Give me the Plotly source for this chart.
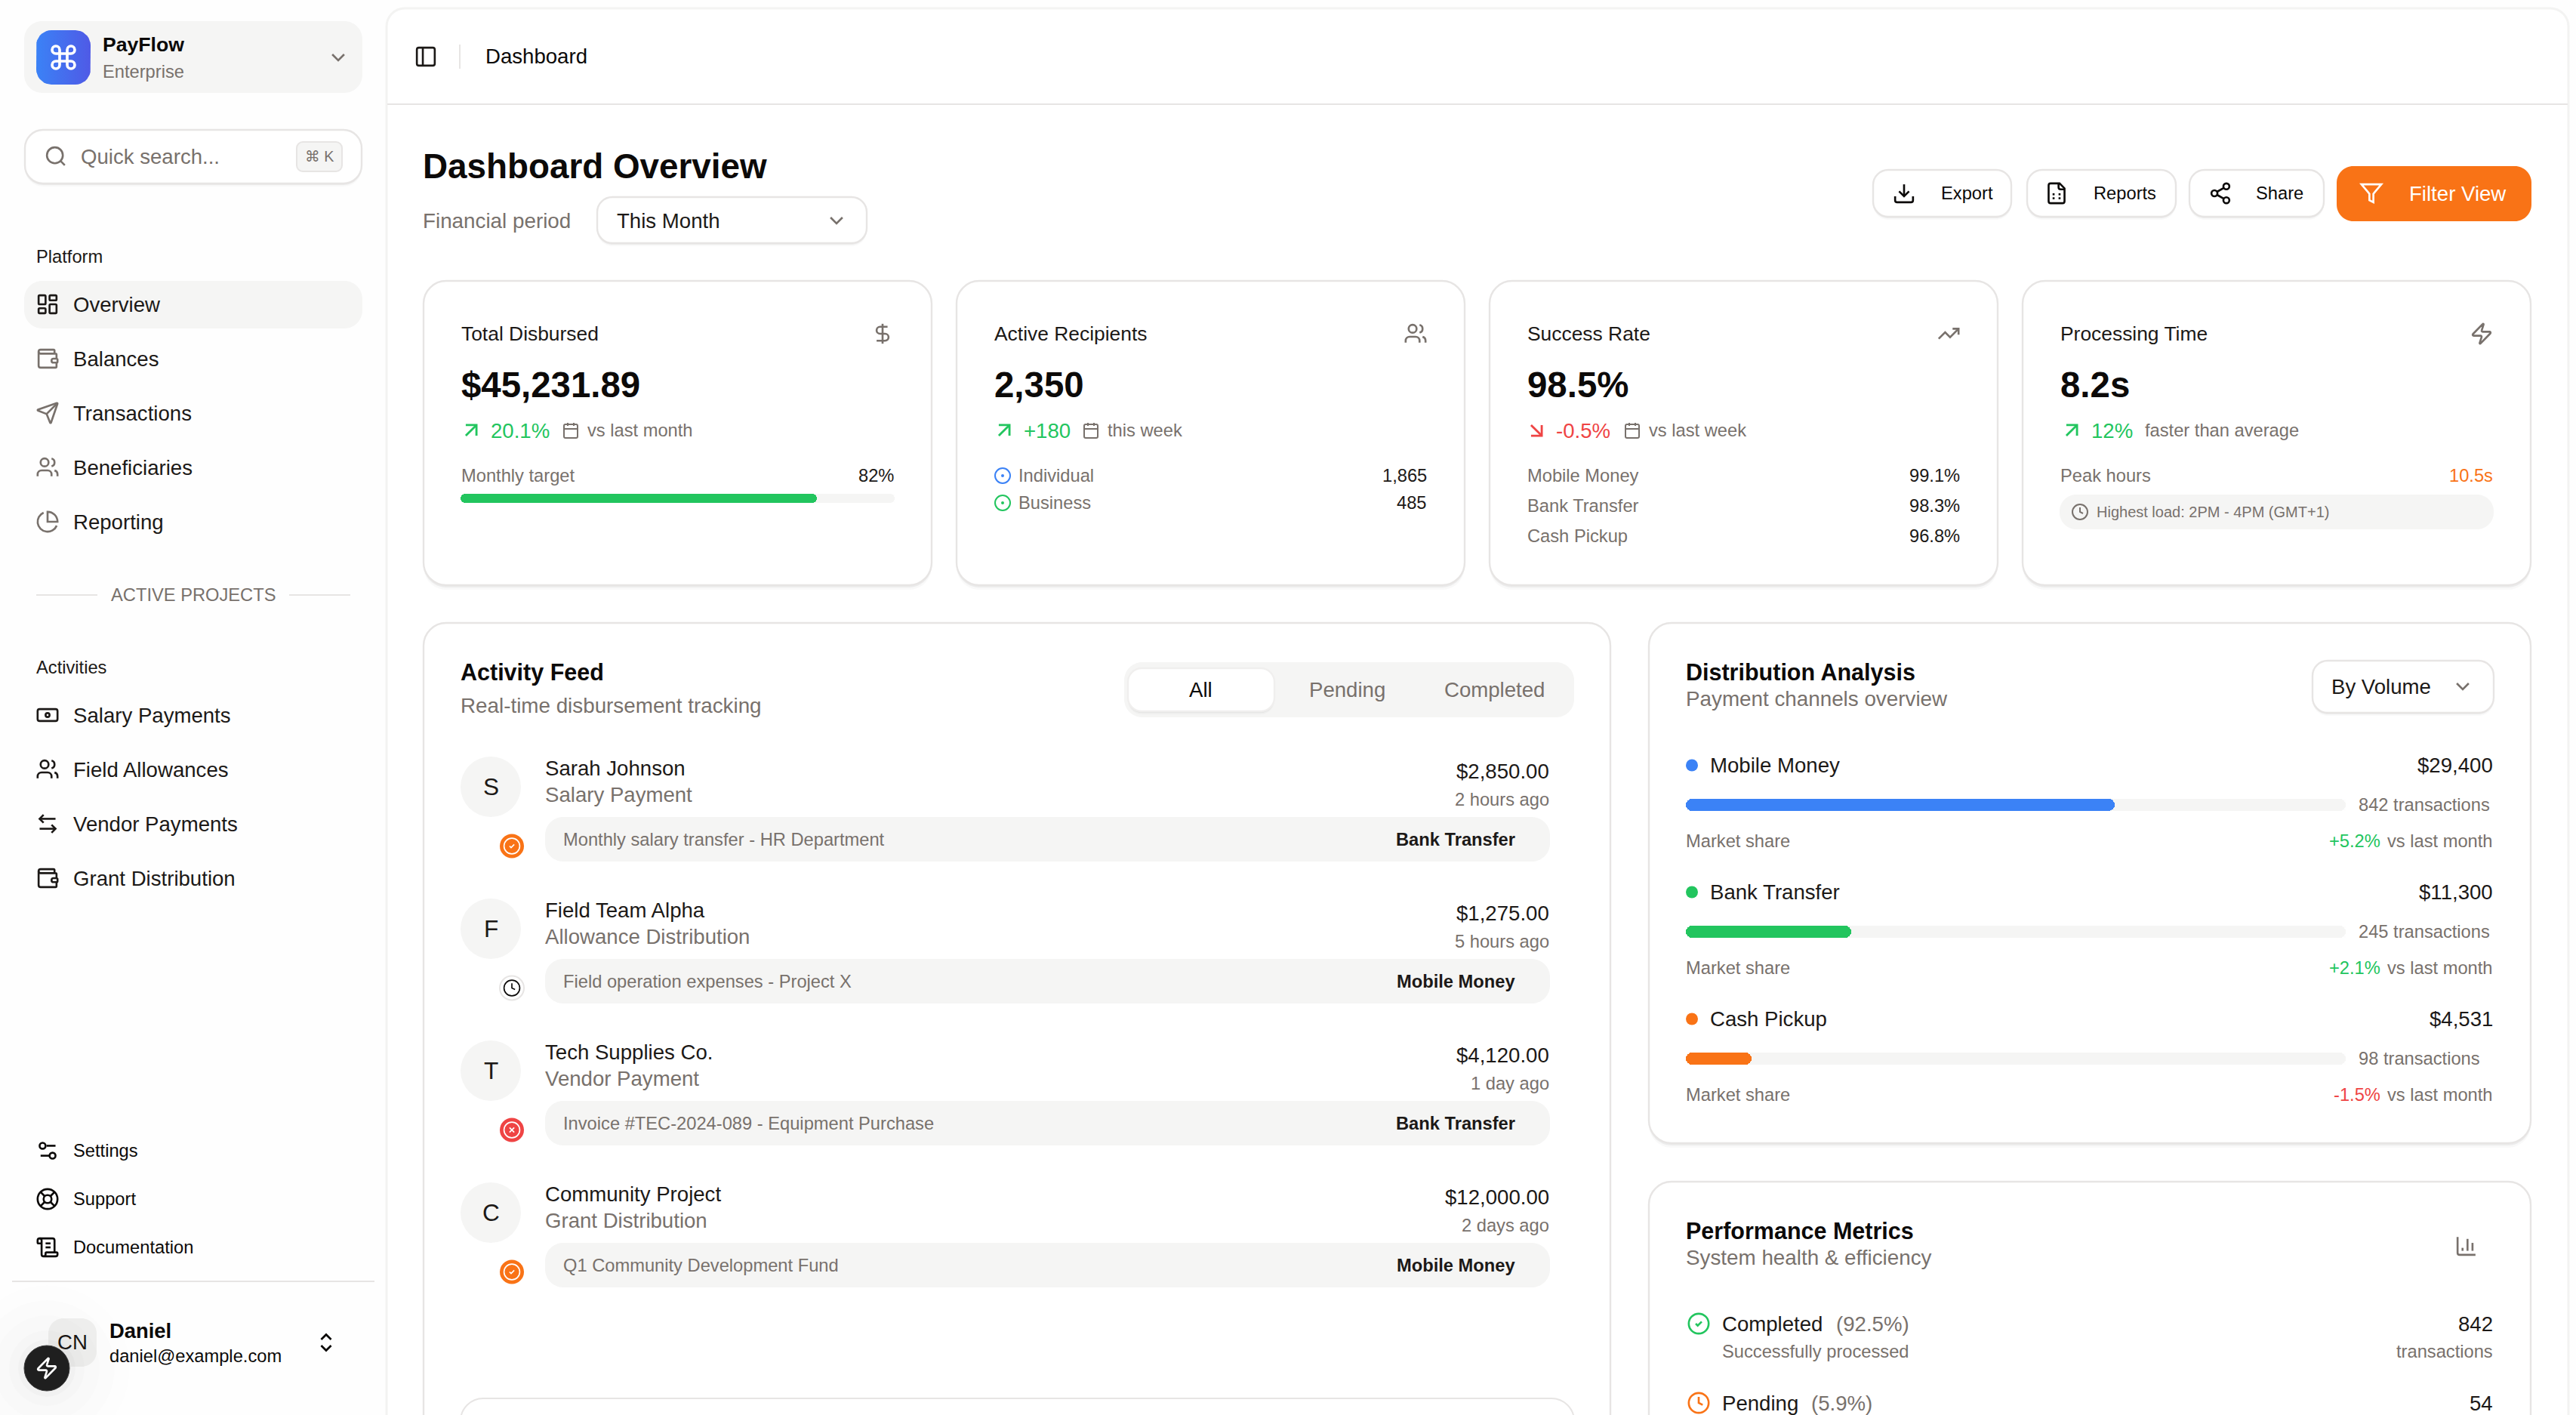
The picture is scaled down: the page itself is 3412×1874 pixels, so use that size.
import re
import math
import plotly.graph_objects as go

W, H = 3412, 1874

# --- Data ---
workspace_name = 'PayFlow'
workspace_plan = 'Enterprise'
platform_items = ['Overview', 'Balances', 'Transactions', 'Beneficiaries', 'Reporting']
activity_items = ['Salary Payments', 'Field Allowances', 'Vendor Payments', 'Grant Distribution']
footer_items = ['Settings', 'Support', 'Documentation']
header_buttons = ['Export', 'Reports', 'Share']

kpi_titles = ['Total Disbursed', 'Active Recipients', 'Success Rate', 'Processing Time']
kpi_values = ['$45,231.89', '2,350', '98.5%', '8.2s']
kpi_deltas = ['20.1%', '+180', '-0.5%', '12%']
kpi_delta_notes = ['vs last month', 'this week', 'vs last week', 'faster than average']
monthly_target = 82
recipient_labels = ['Individual', 'Business']
recipient_counts = ['1,865', '485']
success_labels = ['Mobile Money', 'Bank Transfer', 'Cash Pickup']
success_rates = ['99.1%', '98.3%', '96.8%']

feed_tabs = ['All', 'Pending', 'Completed']
feed_names = ['Sarah Johnson', 'Field Team Alpha', 'Tech Supplies Co.', 'Community Project']
feed_types = ['Salary Payment', 'Allowance Distribution', 'Vendor Payment', 'Grant Distribution']
feed_amounts = ['$2,850.00', '$1,275.00', '$4,120.00', '$12,000.00']
feed_times = ['2 hours ago', '5 hours ago', '1 day ago', '2 days ago']
feed_notes = ['Monthly salary transfer - HR Department', 'Field operation expenses - Project X',
              'Invoice #TEC-2024-089 - Equipment Purchase', 'Q1 Community Development Fund']
feed_methods = ['Bank Transfer', 'Mobile Money', 'Bank Transfer', 'Mobile Money']
feed_status = ['done', 'wait', 'fail', 'done']

channel_names = ['Mobile Money', 'Bank Transfer', 'Cash Pickup']
channel_amounts = ['$29,400', '$11,300', '$4,531']
channel_share = [65, 25, 10]
channel_counts = ['842 transactions', '245 transactions', '98 transactions']
channel_changes = ['+5.2%', '+2.1%', '-1.5%']

# --- Colours ---
INK = '#0c0a09'
DARK = '#1c1917'
GRAY = '#78716c'
BORDER = '#e7e5e4'
MUTED = '#f5f5f4'
GREEN = '#22c55e'
RED = '#ef4444'
ORANGE = '#f97316'
BLUE = '#3b82f6'
channel_colors = [BLUE, GREEN, ORANGE]

# --- Lucide icon paths (24 grid) ---
ICONS = {
    'command': ['M15 6v12a3 3 0 1 0 3-3H6a3 3 0 1 0 3 3V6a3 3 0 1 0-3 3h12a3 3 0 1 0-3-3'],
    'chevron': ['m6 9 6 6 6-6'],
    'chevrons': ['m7 15 5 5 5-5', 'm7 9 5-5 5 5'],
    'search': ['M19 11a8 8 0 1 1-16 0a8 8 0 1 1 16 0', 'm21 21-4.3-4.3'],
    'dashboard': ['M4 3h5a1 1 0 0 1 1 1v7a1 1 0 0 1-1 1H4a1 1 0 0 1-1-1V4a1 1 0 0 1 1-1z',
                  'M15 3h5a1 1 0 0 1 1 1v3a1 1 0 0 1-1 1h-5a1 1 0 0 1-1-1V4a1 1 0 0 1 1-1z',
                  'M15 12h5a1 1 0 0 1 1 1v7a1 1 0 0 1-1 1h-5a1 1 0 0 1-1-1v-7a1 1 0 0 1 1-1z',
                  'M4 16h5a1 1 0 0 1 1 1v3a1 1 0 0 1-1 1H4a1 1 0 0 1-1-1v-3a1 1 0 0 1 1-1z'],
    'wallet': ['M19 7V4a1 1 0 0 0-1-1H5a2 2 0 0 0 0 4h15a1 1 0 0 1 1 1v4h-3a2 2 0 0 0 0 4h3a1 1 0 0 0 1-1v-2a1 1 0 0 0-1-1',
               'M3 5v14a2 2 0 0 0 2 2h15a1 1 0 0 0 1-1v-4'],
    'send': ['M14.536 21.686a.5.5 0 0 0 .937-.024l6.5-19a.496.496 0 0 0-.635-.635l-19 6.5a.5.5 0 0 0-.024.937l7.93 3.18a2 2 0 0 1 1.112 1.11z',
             'm21.854 2.147-10.94 10.939'],
    'users': ['M16 21v-2a4 4 0 0 0-4-4H6a4 4 0 0 0-4 4v2', 'M13 7a4 4 0 1 1-8 0a4 4 0 1 1 8 0',
              'M22 21v-2a4 4 0 0 0-3-3.87', 'M16 3.13a4 4 0 0 1 0 7.75'],
    'pie': ['M21.21 15.89A10 10 0 1 1 8 2.83', 'M22 12A10 10 0 0 0 12 2v10z'],
    'banknote': ['M4 6h16a2 2 0 0 1 2 2v8a2 2 0 0 1-2 2H4a2 2 0 0 1-2-2V8a2 2 0 0 1 2-2z',
                 'M14 12a2 2 0 1 1-4 0a2 2 0 1 1 4 0', 'M6 12h.01', 'M18 12h.01'],
    'swap': ['M8 3 4 7l4 4', 'M4 7h16', 'm16 21 4-4-4-4', 'M20 17H4'],
    'settings': ['M20 7h-9', 'M14 17H5', 'M20 17a3 3 0 1 1-6 0a3 3 0 1 1 6 0', 'M10 7a3 3 0 1 1-6 0a3 3 0 1 1 6 0'],
    'support': ['M22 12a10 10 0 1 1-20 0a10 10 0 1 1 20 0', 'm4.93 4.93 4.24 4.24', 'm14.83 9.17 4.24-4.24',
                'm14.83 14.83 4.24 4.24', 'm9.17 14.83-4.24 4.24', 'M16 12a4 4 0 1 1-8 0a4 4 0 1 1 8 0'],
    'scroll': ['M15 12h-5', 'M15 8h-5', 'M19 17V5a2 2 0 0 0-2-2H4',
               'M8 21h12a2 2 0 0 0 2-2v-1a1 1 0 0 0-1-1H11a1 1 0 0 0-1 1v1a2 2 0 1 1-4 0V5a2 2 0 1 0-4 0v2a1 1 0 0 0 1 1h3'],
    'zap': ['M4 14a1 1 0 0 1-.78-1.63l9.9-10.2a.5.5 0 0 1 .86.46l-1.92 6.02A1 1 0 0 0 13 10h7a1 1 0 0 1 .78 1.63l-9.9 10.2a.5.5 0 0 1-.86-.46l1.92-6.02A1 1 0 0 0 11 14z'],
    'panel': ['M5 3h14a2 2 0 0 1 2 2v14a2 2 0 0 1-2 2H5a2 2 0 0 1-2-2V5a2 2 0 0 1 2-2z', 'M9 3v18'],
    'download': ['M21 15v4a2 2 0 0 1-2 2H5a2 2 0 0 1-2-2v-4', 'm7 10 5 5 5-5', 'M12 15V3'],
    'sheet': ['M15 2H6a2 2 0 0 0-2 2v16a2 2 0 0 0 2 2h12a2 2 0 0 0 2-2V7z', 'M14 2v4a2 2 0 0 0 2 2h4',
              'M8 13h2', 'M14 13h2', 'M8 17h2', 'M14 17h2'],
    'share': ['M21 5a3 3 0 1 1-6 0a3 3 0 1 1 6 0', 'M9 12a3 3 0 1 1-6 0a3 3 0 1 1 6 0',
              'M21 19a3 3 0 1 1-6 0a3 3 0 1 1 6 0', 'm8.59 13.51 6.83 3.98', 'm15.41 6.51-6.82 3.98'],
    'filter': ['M22 3H2l8 9.46V19l4 2v-8.54z'],
    'dollar': ['M12 2v20', 'M17 5H9.5a3.5 3.5 0 0 0 0 7h5a3.5 3.5 0 0 1 0 7H6'],
    'trend': ['m22 7-8.5 8.5-5-5L2 17', 'M16 7h6v6'],
    'up': ['M7 7h10v10', 'M7 17 17 7'],
    'down': ['m7 7 10 10', 'M17 7v10H7'],
    'calendar': ['M8 2v4', 'M16 2v4', 'M5 4h14a2 2 0 0 1 2 2v14a2 2 0 0 1-2 2H5a2 2 0 0 1-2-2V6a2 2 0 0 1 2-2z', 'M3 10h18',
                 'M8 14h.01', 'M12 14h.01', 'M16 14h.01', 'M8 18h.01', 'M12 18h.01', 'M16 18h.01'],
    'dot': ['M22 12a10 10 0 1 1-20 0a10 10 0 1 1 20 0', 'M13 12a1 1 0 1 1-2 0a1 1 0 1 1 2 0'],
    'clock': ['M22 12a10 10 0 1 1-20 0a10 10 0 1 1 20 0', 'M12 6v6l4 2'],
    'check': ['M22 12a10 10 0 1 1-20 0a10 10 0 1 1 20 0', 'm9 12 2 2 4-4'],
    'cross': ['M22 12a10 10 0 1 1-20 0a10 10 0 1 1 20 0', 'm15 9-6 6', 'm9 9 6 6'],
    'bars': ['M3 3v16a2 2 0 0 0 2 2h16', 'M8 17v-3', 'M13 17V5', 'M18 17V9'],
}


def arc_to_cubics(x0, y0, rx, ry, large, sweep, x1, y1):
    # only circular arcs show up in these icons, so no rotation handling
    if (x0 == x1 and y0 == y1) or rx == 0 or ry == 0:
        return []
    dx, dy = (x0 - x1) / 2, (y0 - y1) / 2
    lam = dx * dx / (rx * rx) + dy * dy / (ry * ry)
    if lam > 1:
        rx, ry = rx * math.sqrt(lam), ry * math.sqrt(lam)
    num = max(0, rx * rx * ry * ry - rx * rx * dy * dy - ry * ry * dx * dx)
    den = rx * rx * dy * dy + ry * ry * dx * dx
    k = math.sqrt(num / den) * (-1 if large == sweep else 1)
    cxp, cyp = k * rx * dy / ry, -k * ry * dx / rx
    cx, cy = cxp + (x0 + x1) / 2, cyp + (y0 + y1) / 2
    a0 = math.atan2((dy - cyp) / ry, (dx - cxp) / rx)
    a1 = math.atan2((-dy - cyp) / ry, (-dx - cxp) / rx)
    da = a1 - a0
    if sweep and da < 0:
        da += 2 * math.pi
    if not sweep and da > 0:
        da -= 2 * math.pi
    n = max(1, math.ceil(abs(da) / (math.pi / 2) - 1e-9))
    out = []
    step = da / n
    t = 4 / 3 * math.tan(step / 4)
    for i in range(n):
        s, e = a0 + i * step, a0 + (i + 1) * step
        out.append((cx + rx * (math.cos(s) - t * math.sin(s)), cy + ry * (math.sin(s) + t * math.cos(s)),
                    cx + rx * (math.cos(e) + t * math.sin(e)), cy + ry * (math.sin(e) - t * math.cos(e)),
                    cx + rx * math.cos(e), cy + ry * math.sin(e)))
    return out


def icon_path(d, cx, cy, size):
    f = size / 24
    X = lambda v: f'{cx + (v - 12) * f:.2f}'
    Y = lambda v: f'{cy + (v - 12) * f:.2f}'
    toks = re.findall(r'[a-zA-Z]|-?\d*\.?\d+', d)
    i, x, y, sx, sy, cmd, out = 0, 0.0, 0.0, 0.0, 0.0, '', []
    while i < len(toks):
        if toks[i].isalpha():
            cmd = toks[i]
            i += 1
            if cmd in 'zZ':
                out.append('Z')
                x, y = sx, sy
                continue
        rel = cmd.islower()
        c = cmd.upper()
        n = {'M': 2, 'L': 2, 'H': 1, 'V': 1, 'C': 6, 'A': 7}[c]
        v = [float(t) for t in toks[i:i + n]]
        i += n
        if c in 'ML':
            nx, ny = (x + v[0], y + v[1]) if rel else (v[0], v[1])
            out.append(f'{"M" if c == "M" else "L"}{X(nx)},{Y(ny)}')
            if c == 'M':
                sx, sy = nx, ny
                cmd = 'l' if rel else 'L'
            x, y = nx, ny
        elif c == 'H':
            x = x + v[0] if rel else v[0]
            out.append(f'L{X(x)},{Y(y)}')
        elif c == 'V':
            y = y + v[0] if rel else v[0]
            out.append(f'L{X(x)},{Y(y)}')
        elif c == 'A':
            nx, ny = (x + v[5], y + v[6]) if rel else (v[5], v[6])
            for b in arc_to_cubics(x, y, v[0], v[1], int(v[3]), int(v[4]), nx, ny):
                out.append(f'C{X(b[0])},{Y(b[1])} {X(b[2])},{Y(b[3])} {X(b[4])},{Y(b[5])}')
            x, y = nx, ny
    return ' '.join(out)


shapes = []
notes = []


def rrect(x0, y0, x1, y1, r, fill='rgba(0,0,0,0)', line=None, lw=2, layer='below'):
    k = r * 0.45
    p = (f'M{x0 + r},{y0} L{x1 - r},{y0} C{x1 - k},{y0} {x1},{y0 + k} {x1},{y0 + r} '
         f'L{x1},{y1 - r} C{x1},{y1 - k} {x1 - k},{y1} {x1 - r},{y1} '
         f'L{x0 + r},{y1} C{x0 + k},{y1} {x0},{y1 - k} {x0},{y1 - r} '
         f'L{x0},{y0 + r} C{x0},{y0 + k} {x0 + k},{y0} {x0 + r},{y0} Z')
    shapes.append(dict(type='path', path=p, xref='x', yref='y', fillcolor=fill, layer=layer,
                       line=dict(color=line or 'rgba(0,0,0,0)', width=lw if line else 0)))


def card(x0, y0, x1, y1, r=30, fill='white', line=BORDER, lw=2.4, shadow=(3, 6)):
    for off, a in zip(shadow, (0.05, 0.025)):
        rrect(x0, y0 + off, x1, y1 + off, r, fill=f'rgba(0,0,0,{a})')
    rrect(x0, y0, x1, y1, r, fill=fill, line=line, lw=lw)


def circle(cx, cy, r, fill, line=None, lw=0, layer='below'):
    shapes.append(dict(type='circle', xref='x', yref='y', x0=cx - r, x1=cx + r, y0=cy - r, y1=cy + r,
                       fillcolor=fill, layer=layer, line=dict(color=line or 'rgba(0,0,0,0)', width=lw)))


def hline(x0, x1, y, color=BORDER, lw=2):
    shapes.append(dict(type='line', xref='x', yref='y', x0=x0, x1=x1, y0=y, y1=y, layer='below',
                       line=dict(color=color, width=lw)))


def icon(name, cx, cy, size=31.6, color=GRAY, layer='below', sw=2):
    for d in ICONS[name]:
        shapes.append(dict(type='path', path=icon_path(d, cx, cy, size), xref='x', yref='y', layer=layer,
                           fillcolor='rgba(0,0,0,0)', line=dict(color=color, width=sw * size / 24)))


def txt(x, y, s, size=27.6, color=DARK, anchor='left', bold=False):
    notes.append(dict(x=x, y=y, xref='x', yref='y', showarrow=False, xanchor=anchor, yanchor='middle',
                      text=f'<b>{s}</b>' if bold else s, borderpad=0,
                      font=dict(family='Liberation Sans, DejaVu Sans, sans-serif', size=size, color=color)))


# --- Sidebar ---
rrect(32, 28, 480, 123, 24, fill=MUTED)
icon('command', 84, 76, size=40, color='white', sw=2.2, layer='above')
txt(135, 59, workspace_name, 26.6, INK, bold=True)
txt(135, 95, workspace_plan, 23.7, GRAY)
icon('chevron', 448, 76, color=GRAY)

card(33, 172, 479, 243, r=24, shadow=(2, 4))
icon('search', 74, 207)
txt(106, 207, 'Quick search...', 27.6, GRAY)
rrect(393, 188, 453, 227, 8, fill=MUTED, line=BORDER)
txt(423, 207, '⌘ K', 19.7, GRAY, anchor='center')

txt(47, 340, 'Platform', 23.7, DARK)
rrect(32, 372, 480, 435, 24, fill=MUTED)
platform_icons = ['dashboard', 'wallet', 'send', 'users', 'pie']
for i, label in enumerate(platform_items):
    y = 403 + i * 72
    icon(platform_icons[i], 63, y, color=DARK if i == 0 else GRAY)
    txt(95.5, y, label, 27.6, DARK)

hline(48, 129, 788)
hline(383, 464, 788)
txt(256, 788, 'ACTIVE PROJECTS', 23.7, GRAY, anchor='center')

txt(47, 884, 'Activities', 23.7, DARK)
activity_icons = ['banknote', 'users', 'swap', 'wallet']
for i, label in enumerate(activity_items):
    y = 947 + i * 72
    icon(activity_icons[i], 63, y, color=DARK)
    txt(95.5, y, label, 27.6, DARK)

footer_icons = ['settings', 'support', 'scroll']
for i, label in enumerate(footer_items):
    y = 1524 + i * 64
    icon(footer_icons[i], 63, y, color=INK)
    txt(95.5, y, label, 23.7, INK)

hline(16, 496, 1697)
rrect(64, 1746, 128, 1810, 20, fill='#f1f1f0')
txt(144, 1762, 'Daniel', 27.4, INK, bold=True)
txt(144, 1796, 'daniel@example.com', 23.7, INK)
icon('chevrons', 432, 1778, color=INK)

for r, a in zip((110, 90, 70, 50, 38), (0.004, 0.006, 0.008, 0.012, 0.02)):
    circle(62, 1812, r, f'rgba(0,0,0,{a})', layer='above')
circle(62, 1812, 30, '#1f1f1f', line='#3a3a3a', lw=1, layer='above')
icon('zap', 62, 1812, color='white', layer='above')

# --- Main panel ---
rrect(512, 11, 3402, 2100, 24, fill='white', line='#f3f3f2', lw=3)
hline(513, 3401, 138)
icon('panel', 564, 75, color=DARK)
shapes.append(dict(type='line', xref='x', yref='y', x0=609, x1=609, y0=59, y1=91, layer='below',
                   line=dict(color=BORDER, width=2)))
txt(642, 74, 'Dashboard', 27.6, INK)

txt(558.5, 220, 'Dashboard Overview', 45.8, INK, bold=True)
txt(559, 292, 'Financial period', 27.8, GRAY)
card(791, 261, 1148, 322, r=20, shadow=(2, 4))
txt(816, 292, 'This Month', 27.6, DARK)
icon('chevron', 1108, 292, color=GRAY)

button_boxes = [(2481, 2664), (2685, 2882), (2900, 3078)]
button_icons = [('download', 2522, 2570), ('sheet', 2724, 2772), ('share', 2941, 2987)]
for (x0, x1), (name, ix, tx), label in zip(button_boxes, button_icons, header_buttons):
    card(x0, 225, x1, 287, r=20, shadow=(2, 4))
    icon(name, ix, 256, color=INK)
    txt(tx, 256, label, 23.7, INK)
rrect(3095, 220, 3353, 293, 22, fill=ORANGE)
icon('filter', 3141, 256, color='white')
txt(3190, 256, 'Filter View', 27.6, 'white')

# --- KPI cards ---
kpi_x = [561, 1267, 1973, 2679]
kpi_w = 673
kpi_icons = ['dollar', 'users', 'trend', 'zap']
delta_arrows = ['up', 'up', 'down', 'up']
delta_colors = [GREEN, GREEN, RED, GREEN]
delta_x = [649, 1355, 2060, 2769]
note_x = [777, 1466, 2183, 2840]
for i in range(4):
    x = kpi_x[i]
    card(x, 372, x + kpi_w, 775)
    left, right = x + 48.5, x + kpi_w - 49
    txt(left, 442, kpi_titles[i], 26.4, DARK)
    icon(kpi_icons[i], right - 16, 442)
    txt(left, 509, kpi_values[i], 47.4, INK, bold=True)
    icon(delta_arrows[i], delta_x[i] - 25, 570, size=34, color=delta_colors[i])
    txt(delta_x[i], 570, kpi_deltas[i], 27.6, delta_colors[i])
    if i < 3:
        icon('calendar', note_x[i] - 21, 570, size=24)
    txt(note_x[i], 570, kpi_delta_notes[i], 23.7, GRAY)

x = kpi_x[0]
txt(x + 48.5, 630, 'Monthly target', 23.7, GRAY)
txt(x + kpi_w - 49, 630, f'{monthly_target}%', 23.7, DARK, anchor='right')

x = kpi_x[1]
for i, (label, count) in enumerate(zip(recipient_labels, recipient_counts)):
    y = 630 + i * 36
    icon('dot', x + 61, y, size=24, color=[BLUE, GREEN][i])
    txt(x + 81, y, label, 23.7, GRAY)
    txt(x + kpi_w - 49, y, count, 23.7, DARK, anchor='right')

x = kpi_x[2]
for i, (label, rate) in enumerate(zip(success_labels, success_rates)):
    y = 630 + i * 40
    txt(x + 48.5, y, label, 23.7, GRAY)
    txt(x + kpi_w - 49, y, rate, 23.7, DARK, anchor='right')

x = kpi_x[3]
txt(x + 48.5, 630, 'Peak hours', 23.7, GRAY)
txt(x + kpi_w - 49, 630, '10.5s', 23.7, ORANGE, anchor='right')
rrect(x + 49, 655, x + kpi_w - 49, 701, 22, fill=MUTED)
icon('clock', 2755, 678, size=24)
txt(2776, 678, 'Highest load: 2PM - 4PM (GMT+1)', 20, GRAY)

# --- Activity feed ---
card(561, 825, 2133, 2100)
txt(608.5, 890, 'Activity Feed', 30.5, INK, bold=True)
txt(608.5, 934, 'Real-time disbursement tracking', 27.8, GRAY)
rrect(1489, 877, 2085, 950, 24, fill=MUTED)
card(1494, 885, 1688, 942, r=18, line='#f0efee', shadow=(2, 4))
for label, cx, col in zip(feed_tabs, (1590, 1784, 1979), (INK, GRAY, GRAY)):
    txt(cx, 913, label, 27.6, col, anchor='center')

status_icons = {'done': ('check', ORANGE, 'white'), 'wait': ('clock', 'white', INK), 'fail': ('cross', RED, 'white')}
for i in range(4):
    dy = i * 188
    circle(650, 1042 + dy, 40, MUTED)
    txt(650, 1042 + dy, feed_names[i][0], 31.6, DARK, anchor='center')
    txt(721, 1017 + dy, feed_names[i], 27.6, DARK)
    txt(721, 1052 + dy, feed_types[i], 27.6, GRAY)
    txt(2053, 1021 + dy, feed_amounts[i], 27.6, DARK, anchor='right')
    txt(2053, 1059 + dy, feed_times[i], 23.7, GRAY, anchor='right')
    name, bg, fg = status_icons[feed_status[i]]
    circle(678, 1120.5 + dy, 16, bg, line=BORDER if bg == 'white' else None, lw=2 if bg == 'white' else 0)
    icon(name, 678, 1120.5 + dy, size=25, color=fg, sw=1.6)
    rrect(722, 1082 + dy, 2053, 1141 + dy, 24, fill=MUTED)
    txt(745, 1112 + dy, feed_notes[i], 23.7, GRAY)
    txt(2008, 1112 + dy, feed_methods[i], 23.7, DARK, anchor='right', bold=True)

rrect(610, 1852, 2085, 2000, 30, fill='white', line=BORDER)

# --- Distribution card ---
card(2184, 825, 3352, 1514)
txt(2232, 890, 'Distribution Analysis', 30.5, INK, bold=True)
txt(2232, 925, 'Payment channels overview', 27.8, GRAY)
card(3063, 875, 3303, 944, r=20, shadow=(2, 4))
txt(3087, 909, 'By Volume', 27.6, DARK)
icon('chevron', 3262, 909, color=GRAY)

bar_boxes = []
for i in range(3):
    dy = i * 168
    circle(2241, 1013.5 + dy, 8, channel_colors[i])
    txt(2264, 1013.5 + dy, channel_names[i], 27.6, DARK)
    txt(3303, 1013.5 + dy, channel_amounts[i], 27.6, DARK, anchor='right')
    txt(3123, 1066 + dy, channel_counts[i], 23.7, GRAY)
    txt(2232, 1114 + dy, 'Market share', 23.7, GRAY)
    txt(3303, 1114 + dy, 'vs last month', 23.7, GRAY, anchor='right')
    txt(3154, 1114 + dy, channel_changes[i], 23.7, RED if channel_changes[i][0] == '-' else GREEN, anchor='right')
    bar_boxes.append((2233, 3107, 1058 + dy, 1074 + dy))

# --- Performance card ---
card(2184, 1565, 3352, 2100)
txt(2232, 1630, 'Performance Metrics', 30.5, INK, bold=True)
txt(2232, 1665, 'System health &amp; efficiency', 27.8, GRAY)
icon('bars', 3267, 1650)
icon('check', 2250, 1753, color=GREEN)
txt(2280, 1753, 'Completed', 27.6, DARK)
txt(2431, 1753, '(92.5%)', 27.6, GRAY)
txt(3303, 1753, '842', 27.6, DARK, anchor='right')
txt(2280, 1790, 'Successfully processed', 23.7, GRAY)
txt(3303, 1790, 'transactions', 23.7, GRAY, anchor='right')
icon('clock', 2250, 1858, color=ORANGE)
txt(2280, 1858, 'Pending', 27.6, DARK)
txt(2398, 1858, '(5.9%)', 27.6, GRAY)
txt(3303, 1858, '54', 27.6, DARK, anchor='right')

# --- Figure ---
fig = go.Figure()

# logo tile with the blue gradient, shapes can't do gradients
logo_x, logo_y = [], []
for cx, cy, start in ((100, 60, -90), (100, 92, 0), (68, 92, 90), (68, 60, 180)):
    for a in range(0, 91, 10):
        t = math.radians(start + a)
        logo_x.append(cx + 20 * math.cos(t))
        logo_y.append(cy + 20 * math.sin(t))
fig.add_trace(go.Scatter(x=logo_x, y=logo_y, mode='lines', fill='toself', line=dict(width=0), hoverinfo='skip',
                         fillgradient=dict(type='horizontal', colorscale=[[0, '#3b82f6'], [1, '#4f5ae6']]),
                         showlegend=False))

# CN sits under the floating button, so it goes in as a trace
fig.add_trace(go.Scatter(x=[96], y=[1780], mode='text', text=['CN'], textposition='middle center', hoverinfo='skip',
                         textfont=dict(family='Liberation Sans', size=27.6, color=DARK), showlegend=False))

layout_axes = dict(
    xaxis=dict(range=[0, W], domain=[0, 1], visible=False, fixedrange=True),
    yaxis=dict(range=[H, 0], domain=[0, 1], visible=False, fixedrange=True),
)


def add_progress(n, box, value, color, radius):
    x0, x1, y0, y1 = box
    xa, ya = f'xaxis{n}', f'yaxis{n}'
    layout_axes[xa] = dict(domain=[x0 / W, x1 / W], range=[0, 100], visible=False, fixedrange=True, anchor=f'y{n}')
    layout_axes[ya] = dict(domain=[1 - y1 / H, 1 - y0 / H], visible=False, fixedrange=True, anchor=f'x{n}')
    # rounded halves for the two ends, then a square piece over the notch where they meet
    for v, c in ((100, MUTED), (value, color)):
        for base, length, rad in ((v / 2, v / 2, radius), (v / 2, -v / 2, radius), (v / 4, v / 2, 0)):
            fig.add_trace(go.Bar(x=[length], base=[base], y=['share'], orientation='h', xaxis=f'x{n}', yaxis=f'y{n}',
                                 hoverinfo='skip', marker=dict(color=c, cornerradius=rad, line=dict(width=0)),
                                 showlegend=False))


add_progress(2, (610, 1185, 654, 666), monthly_target, GREEN, 6)
for i, box in enumerate(bar_boxes):
    add_progress(3 + i, box, channel_share[i], channel_colors[i], 8)

fig.update_layout(
    width=W, height=H, margin=dict(l=0, r=0, t=0, b=0), autosize=False,
    paper_bgcolor='#fefefe', plot_bgcolor='#fefefe',
    barmode='overlay', bargap=0, showlegend=False,
    shapes=shapes, annotations=notes, **layout_axes,
)

fig.write_html('out.html', config=dict(displayModeBar=False),
               post_script="document.body.style.margin='0';document.body.style.overflow='hidden';")
